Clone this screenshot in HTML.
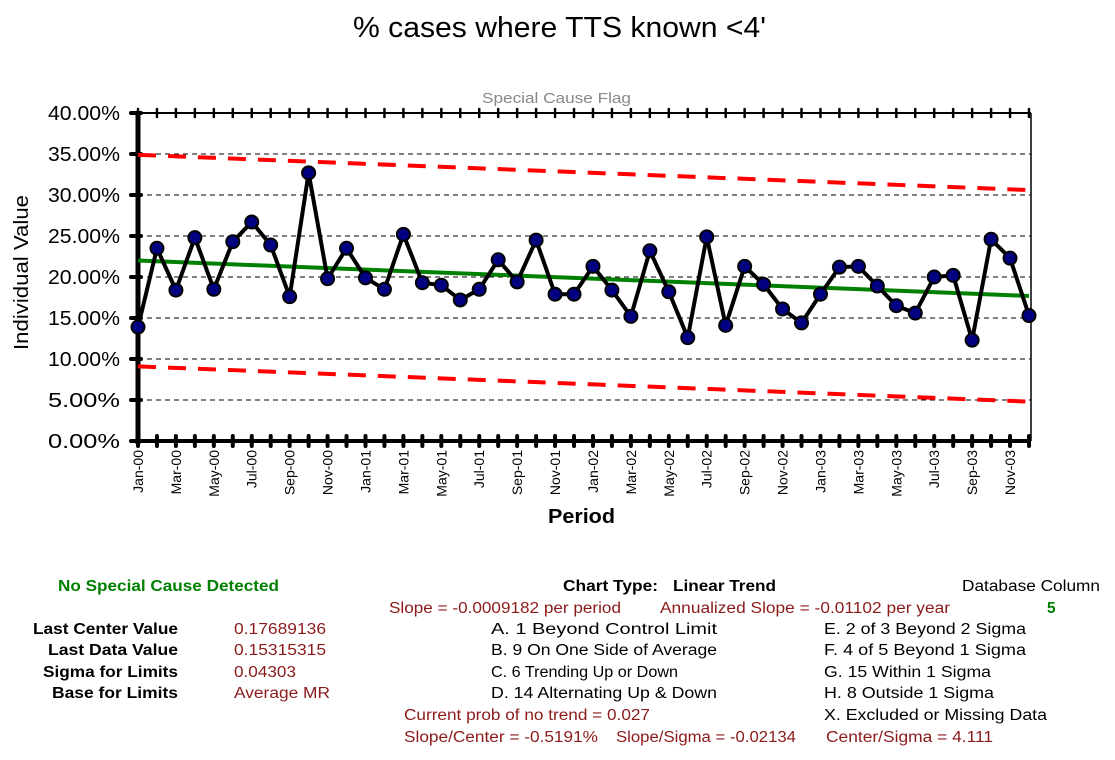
<!DOCTYPE html>
<html><head><meta charset="utf-8"><style>
body{margin:0;background:#fff;}
svg{display:block;font-family:"Liberation Sans",Arial,sans-serif;}
</style></head><body>
<svg id="chart" width="1115" height="760">
<text x="353" y="37" font-size="29" textLength="413" lengthAdjust="spacingAndGlyphs">% cases where TTS known &lt;4'</text>
<text x="482" y="103" font-size="15" fill="#888" textLength="149" lengthAdjust="spacingAndGlyphs">Special Cause Flag</text>
<text transform="translate(28,350) rotate(-90)" font-size="20" textLength="155" lengthAdjust="spacingAndGlyphs">Individual Value</text>
<text x="548" y="523" font-size="20" font-weight="bold" textLength="67" lengthAdjust="spacingAndGlyphs">Period</text>
<g id="grid"></g><g id="axes"></g><g id="lines"></g><g id="pts"></g>
<g font-size="15.5">
<text x="58" y="591" fill="#008000" font-weight="bold" textLength="221" lengthAdjust="spacingAndGlyphs">No Special Cause Detected</text>
<text x="33" y="634" font-weight="bold" textLength="145" lengthAdjust="spacingAndGlyphs">Last Center Value</text>
<text x="48" y="655" font-weight="bold" textLength="130" lengthAdjust="spacingAndGlyphs">Last Data Value</text>
<text x="43" y="677" font-weight="bold" textLength="135" lengthAdjust="spacingAndGlyphs">Sigma for Limits</text>
<text x="52" y="698" font-weight="bold" textLength="126" lengthAdjust="spacingAndGlyphs">Base for Limits</text>
<g fill="#8b1a1a">
<text x="234" y="634" textLength="92" lengthAdjust="spacingAndGlyphs">0.17689136</text>
<text x="234" y="655" textLength="92" lengthAdjust="spacingAndGlyphs">0.15315315</text>
<text x="234" y="677" textLength="62" lengthAdjust="spacingAndGlyphs">0.04303</text>
<text x="234" y="698" textLength="96" lengthAdjust="spacingAndGlyphs">Average MR</text>
<text x="389" y="613" textLength="232" lengthAdjust="spacingAndGlyphs">Slope = -0.0009182 per period</text>
<text x="660" y="613" textLength="290" lengthAdjust="spacingAndGlyphs">Annualized Slope = -0.01102 per year</text>
<text x="404" y="720" textLength="246" lengthAdjust="spacingAndGlyphs">Current prob of no trend = 0.027</text>
<text x="404" y="742" textLength="194" lengthAdjust="spacingAndGlyphs">Slope/Center = -0.5191%</text>
<text x="616" y="742" textLength="180" lengthAdjust="spacingAndGlyphs">Slope/Sigma = -0.02134</text>
<text x="826" y="742" textLength="167" lengthAdjust="spacingAndGlyphs">Center/Sigma = 4.111</text>
</g>
<text x="563" y="591" font-weight="bold" textLength="95" lengthAdjust="spacingAndGlyphs">Chart Type:</text>
<text x="673" y="591" font-weight="bold" textLength="103" lengthAdjust="spacingAndGlyphs">Linear Trend</text>
<text x="962" y="591" textLength="138" lengthAdjust="spacingAndGlyphs">Database Column</text>
<text x="1047" y="613" fill="#008000" font-weight="bold">5</text>
<text x="491" y="634" textLength="226" lengthAdjust="spacingAndGlyphs">A.  1 Beyond Control Limit</text>
<text x="491" y="655" textLength="226" lengthAdjust="spacingAndGlyphs">B.  9 On One Side of Average</text>
<text x="491" y="677" textLength="187" lengthAdjust="spacingAndGlyphs">C.  6 Trending Up or Down</text>
<text x="491" y="698" textLength="226" lengthAdjust="spacingAndGlyphs">D.  14 Alternating  Up &amp; Down</text>
<text x="824" y="634" textLength="202" lengthAdjust="spacingAndGlyphs">E.  2 of 3 Beyond 2 Sigma</text>
<text x="824" y="655" textLength="202" lengthAdjust="spacingAndGlyphs">F.  4 of 5 Beyond 1 Sigma</text>
<text x="824" y="677" textLength="167" lengthAdjust="spacingAndGlyphs">G.  15 Within 1 Sigma</text>
<text x="824" y="698" textLength="170" lengthAdjust="spacingAndGlyphs">H.  8 Outside 1 Sigma</text>
<text x="824" y="720" textLength="223" lengthAdjust="spacingAndGlyphs">X.  Excluded or Missing Data</text>
</g>
</svg>
<script>
const months = ["Jan","Feb","Mar","Apr","May","Jun","Jul","Aug","Sep","Oct","Nov","Dec"];
const years = ["00","01","02","03"];
const values = [13.9,23.5,18.4,24.8,18.5,24.3,26.7,23.9,17.6,32.7,19.8,23.5,19.9,18.5,25.2,19.3,19.0,17.2,18.5,22.1,19.4,24.5,17.9,17.9,21.3,18.4,15.2,23.2,18.2,12.6,24.9,14.1,21.3,19.1,16.1,14.4,17.9,21.2,21.3,18.9,16.5,15.6,20.0,20.2,12.3,24.6,22.3,15.3];
const centerStartEnd = [22.005,17.689];
const uclStartEnd = [34.9,30.6];
const lclStartEnd = [9.1,4.8];
const yTicks = [0,5,10,15,20,25,30,35,40];

const NS="http://www.w3.org/2000/svg";
const X0=138,X1=1029,Y0=441,Y1=113;
const n=values.length;
const xs=i=>X0+(X1-X0)*i/(n-1);
const ys=v=>Y0-(Y0-Y1)*v/40;
function mk(tag,attrs,parent){const e=document.createElementNS(NS,tag);for(const k in attrs)e.setAttribute(k,attrs[k]);parent.appendChild(e);return e;}
const grid=document.getElementById('grid'),axes=document.getElementById('axes'),lines=document.getElementById('lines'),pts=document.getElementById('pts');
yTicks.forEach(t=>{
  const y=ys(t);
  if(t>0&&t<40){const g=mk('line',{x1:X0,x2:1031,y1:y,y2:y,stroke:'#000','stroke-width':1,'stroke-dasharray':'5,4'},grid);
  
  }
  const tk=mk('line',{x1:X0-7,x2:X0+3,y1:y,y2:y,stroke:'#000','stroke-width':4,'stroke-linecap':'round'},axes);
  
  
  const lb=mk('text',{x:48,y:y+7,'font-size':20,textLength:72,lengthAdjust:'spacingAndGlyphs'},axes);
  lb.textContent=t.toFixed(2)+'%';
  
  
});
let ax=mk('line',{x1:X0,x2:1031,y1:Y1,y2:Y1,stroke:'#000','stroke-width':2},axes);

ax=mk('line',{x1:1031,x2:1031,y1:Y1,y2:Y0,stroke:'#000','stroke-width':1.5},axes);

ax=mk('line',{x1:X0,x2:1031,y1:Y0,y2:Y0,stroke:'#000','stroke-width':4},axes);

ax=mk('line',{x1:X0,x2:X0,y1:Y1,y2:Y0+3,stroke:'#000','stroke-width':5},axes);

for(let i=0;i<n;i++){
  const x=xs(i);
  const t1=mk('line',{x1:x,x2:x,y1:Y0-5,y2:Y0+5,stroke:'#000','stroke-width':4,'stroke-linecap':'round'},axes);
  
  
  const t2=mk('line',{x1:x,x2:x,y1:Y1-4,y2:Y1+4,stroke:'#000','stroke-width':2.5,'stroke-linecap':'round'},axes);
  
  
  if(i%2===0){
    const lb=mk('text',{transform:`translate(${x+5},${Y0+9}) rotate(-90)`,'font-size':14,'text-anchor':'end'},axes);
    lb.textContent=months[i%12]+'-'+years[Math.floor(i/12)];
    
    
  }
}
function limitLine(se,color,dash,name){
  const l=mk('line',{x1:X0,x2:X1,y1:ys(se[0]),y2:ys(se[1]),stroke:color,'stroke-width':4},lines);
  if(dash)l.setAttribute('stroke-dasharray',dash);
  
  
}
limitLine(uclStartEnd,'#ff0000','18,12','upper-control-limit');
limitLine(lclStartEnd,'#ff0000','18,12','lower-control-limit');
limitLine(centerStartEnd,'#008000',null,'center-trend-line');
const pl=mk('polyline',{points:values.map((v,i)=>xs(i)+','+ys(v)).join(' '),fill:'none',stroke:'#000','stroke-width':4,'stroke-linejoin':'round'},lines);


values.forEach((v,i)=>{
  const c=mk('circle',{cx:xs(i),cy:ys(v),r:6.5,fill:'#000080',stroke:'#000','stroke-width':2},pts);
  
  
});
</script>
</body></html>
